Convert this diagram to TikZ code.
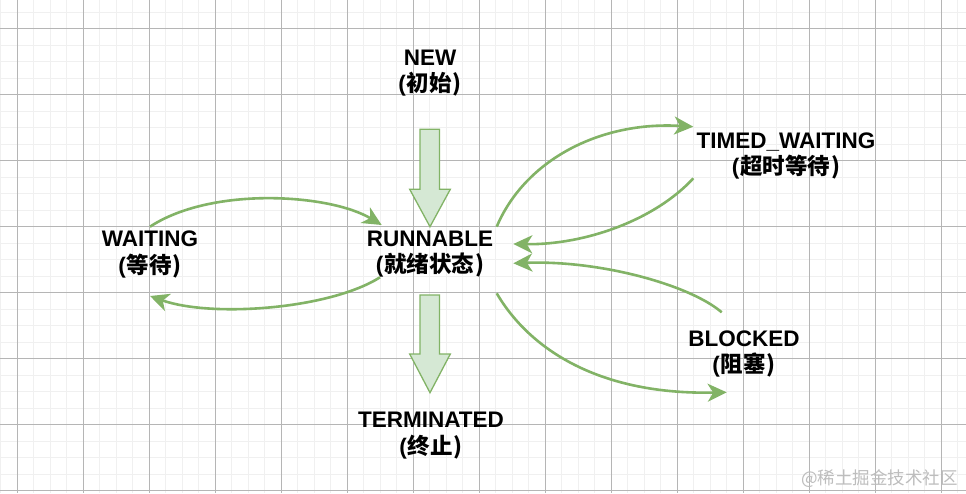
\documentclass[tikz,border=0pt]{standalone}
\usepackage{fontspec}
\setmainfont{Liberation Sans}
\newfontfamily\cjk{Noto Sans CJK SC}
\usetikzlibrary{arrows.meta}
\definecolor{gstroke}{HTML}{82B366}
\definecolor{gfill}{HTML}{D5E8D4}
\definecolor{gridmajor}{HTML}{B5B5B5}
\definecolor{gridminor}{HTML}{F0F0F0}
\definecolor{wmark}{HTML}{BDBDBD}
\begin{document}
\begin{tikzpicture}[x=1pt,y=-1pt,
  statelbl/.style={anchor=base, inner sep=0pt, font=\fontsize{22.5}{27}\selectfont\bfseries},
  cnlbl/.style={anchor=base, inner sep=0pt, font=\fontsize{22.5}{27}\selectfont\bfseries},
  flow/.style={draw=gstroke, line width=2.6pt, -{Stealth[length=19pt,width=18pt,inset=5.5pt]}},
  blockarrow/.style={draw=gstroke, fill=gfill, line width=1.3pt, line join=miter},
  minorline/.style={draw=gridminor, line width=1pt},
  majorline/.style={draw=gridmajor, line width=0.9pt}]
\useasboundingbox (0,0) rectangle (966,493);
\fill[white] (0,0) rectangle (966,493);
% grid
\foreach \i in {0,...,58} {\path[minorline] ({0.5+16.5*\i},0) -- ({0.5+16.5*\i},493);}
\foreach \j in {0,...,29} {\path[minorline] (0,{12.3+16.5*\j}) -- (966,{12.3+16.5*\j});}
\foreach \i in {0,...,14} {\path[majorline] ({17+66*\i},0) -- ({17+66*\i},493);}
\foreach \j in {0,...,7} {\path[majorline] (0,{28.8+66*\j}) -- (966,{28.8+66*\j});}

% state labels
\node[statelbl] (new) at (430,65) {NEW};
\node[cnlbl] (newcn) at (430,91.5) {(\kern1pt\cjk 初始\kern1pt)};
\node[statelbl] (runnable) at (430,246) {RUNNABLE};
\node[cnlbl] (runnablecn) at (430,272.5) {(\kern1pt\cjk 就绪状态\kern1pt)};
\node[statelbl] (waiting) at (150,246.5) {WAITING};
\node[cnlbl] (waitingcn) at (150,273) {(\kern1pt\cjk 等待\kern1pt)};
\node[statelbl] (timed) at (786,148.3) {TIMED\_WAITING};
\node[cnlbl] (timedcn) at (786,174.8) {(\kern1pt\cjk 超时等待\kern1pt)};
\node[statelbl] (blocked) at (744,346) {BLOCKED};
\node[cnlbl] (blockedcn) at (744,372.5) {(\kern1pt\cjk 阻塞\kern1pt)};
\node[statelbl] (terminated) at (431,427.7) {TERMINATED};
\node[cnlbl] (terminatedcn) at (431,454.2) {(\kern1pt\cjk 终止\kern1pt)};

% block arrows
\path[blockarrow] (420,129.3) -- (439.5,129.3) -- (439.5,189.3) -- (450.3,189.3) -- (430,226.7)
  -- (409.7,189.3) -- (420,189.3) -- cycle;
\path[blockarrow] (420,295) -- (439.5,295) -- (439.5,354) -- (450.3,354) -- (430,392.7)
  -- (409.7,354) -- (420,354) -- cycle;

% curved transitions
\coordinate (w1) at (150,226.7);
\coordinate (r1) at (381.7,225);
\coordinate (r2) at (380,277.3);
\coordinate (w2) at (150,296);
\coordinate (r3) at (496.7,226.7);
\coordinate (t1) at (693.3,126.7);
\coordinate (t2) at (693.3,178.3);
\coordinate (r4) at (513.3,244);
\coordinate (b1) at (721.7,312.3);
\coordinate (r5) at (513.3,263.3);
\coordinate (r6) at (496.7,293.3);
\coordinate (b2) at (726.7,392.3);

\draw[flow] (w1) .. controls (212,186) and (330,194) .. (r1);
\draw[flow] (r2) .. controls (330,309) and (212,318) .. (w2);
\draw[flow] (r3) .. controls (525,160) and (600,121) .. (t1);
\draw[flow] (t2) .. controls (655,220) and (585,245) .. (r4);
\draw[flow] (b1) .. controls (690,285) and (600,260) .. (r5);
\draw[flow] (r6) .. controls (530,350) and (600,395) .. (b2);

% watermark
\node[anchor=base east, inner sep=0pt, text=wmark, font=\cjk\fontsize{17.5}{20}\selectfont] (wm) at (958,484) {@稀土掘金技术社区};
\end{tikzpicture}
\end{document}
